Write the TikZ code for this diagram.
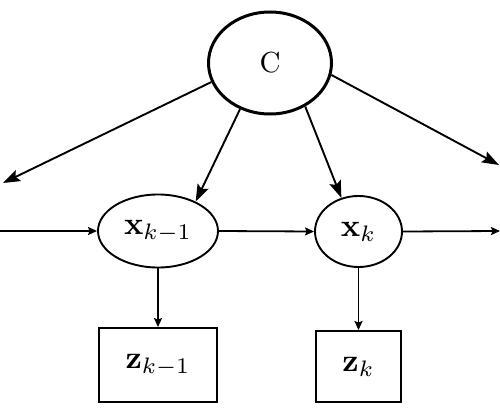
\documentclass[tikz,border=0pt]{standalone}
\usepackage{graphicx}
\usepackage{amsmath}
\usetikzlibrary{shapes.geometric,arrows.meta}
\newcommand{\bigtxt}[1]{\scalebox{3.2}{#1}}
\begin{document}
\begin{tikzpicture}[x=1pt,y=-1pt,
  ell/.style={draw,ellipse,inner sep=0pt,line width=1.9pt},
  bx/.style={draw,rectangle,inner sep=0pt,line width=1.9pt},
  bigarr/.style={line width=1.9pt,-{Stealth[length=17pt,width=12pt,inset=3pt]}},
  smallarr/.style={line width=1.8pt,-{Stealth[length=9pt,width=8pt,inset=1.5pt]}}]
\useasboundingbox (0,0) rectangle (500,412);
\node[ell,line width=3pt,minimum width=123pt,minimum height=102pt] (C) at (270,63) {\scalebox{2.9}{C}};
\node[ell,minimum width=120pt,minimum height=73pt] (xkm1) at (158,231) {\bigtxt{$\mathbf{x}_{k-1}$}};
\node[ell,minimum width=87pt,minimum height=71pt] (xk) at (358.5,231.5) {\bigtxt{$\mathbf{x}_{k}$}};
\node[bx,minimum width=118pt,minimum height=74pt] (zkm1) at (158,365) {\bigtxt{$\mathbf{z}_{k-1}$}};
\node[bx,minimum width=85pt,minimum height=71pt] (zk) at (358.5,366.5) {\bigtxt{$\mathbf{z}_{k}$}};
\coordinate (lft) at (3,183);
\coordinate (rgt) at (499,165);
\coordinate (hin) at (0,231);
\coordinate (hout) at (500,231);
\draw[bigarr] (C.198) -- (lft);
\draw[bigarr] (C.-123) -- (xkm1.38);
\draw[bigarr] (C.-51) -- (xk.117);
\draw[bigarr] (C.-11) -- (rgt);
\draw[smallarr] (hin) -- (xkm1.west);
\draw[smallarr] (xkm1.east) -- (xk.west);
\draw[smallarr] (xk.east) -- (hout);
\draw[smallarr] (xkm1.south) -- (zkm1.north);
\draw[smallarr] (xk.south) -- (zk.north);
\end{tikzpicture}
\end{document}
